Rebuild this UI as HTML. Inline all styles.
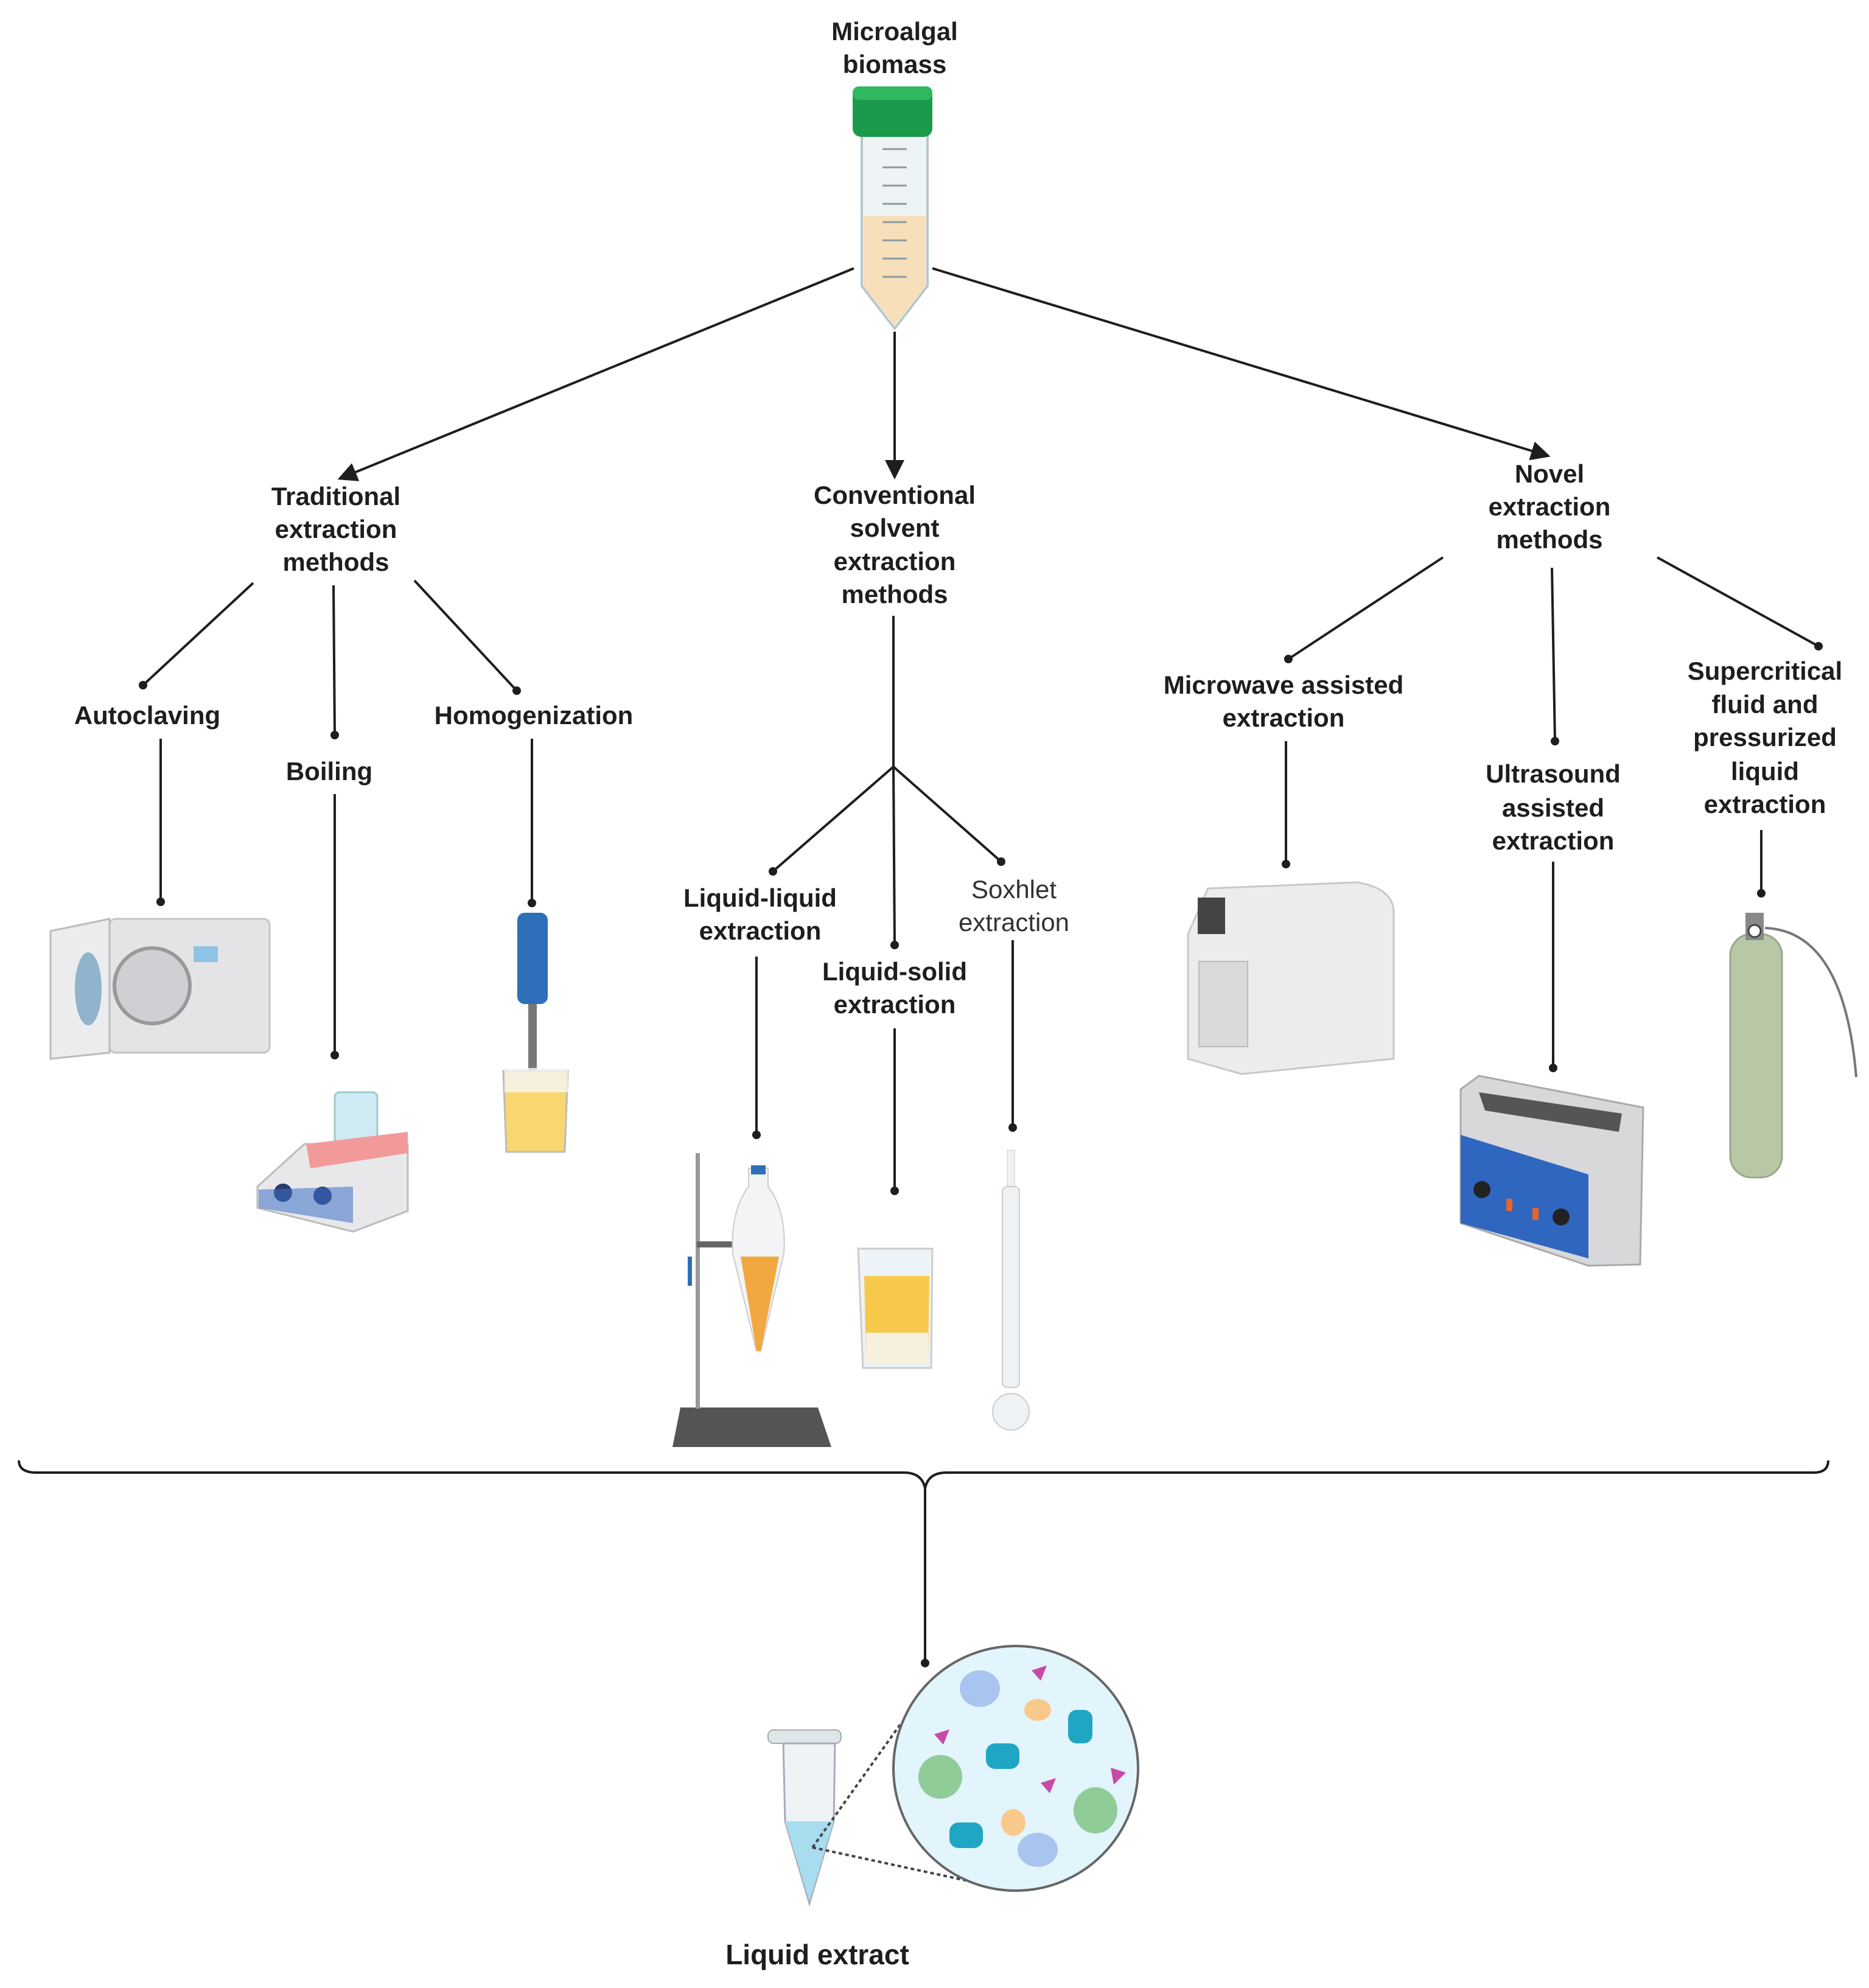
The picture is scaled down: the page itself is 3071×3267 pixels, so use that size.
<!DOCTYPE html>
<html><head><meta charset="utf-8"><style>
html,body{margin:0;padding:0;background:#fff;}
svg{display:block;}
text{font-family:"Liberation Sans",sans-serif;font-weight:bold;fill:#1e1e1e;font-size:42px;text-anchor:middle;}
.n{font-weight:normal;fill:#333;}
.l{stroke:#1e1e1e;stroke-width:4;fill:none;}
</style></head><body>
<svg width="3071" height="3267" viewBox="0 0 3071 3267" xmlns="http://www.w3.org/2000/svg">
<defs>
<marker id="ar" markerWidth="8" markerHeight="8" refX="6" refY="4" orient="auto" markerUnits="strokeWidth"><path d="M0,0 L8,4 L0,8 z" fill="#1e1e1e"/></marker>
</defs>
<text x="1470" y="66">Microalgal</text>
<text x="1470" y="120">biomass</text>
<path d="M1416,215 L1524,215 L1524,470 L1470,540 L1416,470 Z" fill="#eef4f6" stroke="#b9c6cc" stroke-width="4"/>
<path d="M1419,355 L1521,355 L1521,470 L1470,535 L1419,470 Z" fill="#f6dfb9"/>
<g stroke="#8a9aa0" stroke-width="3">
<line x1="1450" y1="245" x2="1490" y2="245"/><line x1="1450" y1="275" x2="1490" y2="275"/><line x1="1450" y1="305" x2="1490" y2="305"/><line x1="1450" y1="335" x2="1490" y2="335"/><line x1="1450" y1="365" x2="1490" y2="365"/><line x1="1450" y1="395" x2="1490" y2="395"/><line x1="1450" y1="425" x2="1490" y2="425"/><line x1="1450" y1="455" x2="1490" y2="455"/></g>
<rect x="1401" y="142" width="131" height="83" rx="14" fill="#1b9a4b"/>
<rect x="1401" y="142" width="131" height="22" rx="10" fill="#2fb85f"/>
<line class="l" x1="1403" y1="441" x2="562" y2="785" marker-end="url(#ar)"/>
<line class="l" x1="1470" y1="545" x2="1470" y2="780" marker-end="url(#ar)"/>
<line class="l" x1="1532" y1="441" x2="2540" y2="748" marker-end="url(#ar)"/>
<text x="552" y="830">Traditional</text><text x="552" y="884">extraction</text><text x="552" y="938">methods</text>
<text x="1470" y="828">Conventional</text><text x="1470" y="882">solvent</text><text x="1470" y="937">extraction</text><text x="1470" y="991">methods</text>
<text x="2546" y="793">Novel</text><text x="2546" y="847">extraction</text><text x="2546" y="901">methods</text>
<g class="l"><line x1="416" y1="958" x2="235" y2="1126"/><line x1="548" y1="962" x2="550" y2="1208"/><line x1="681" y1="954" x2="849" y2="1135"/>
<line x1="264" y1="1214" x2="264" y2="1482"/><line x1="550" y1="1305" x2="550" y2="1734"/><line x1="874" y1="1214" x2="874" y2="1484"/>
<line x1="1468" y1="1012" x2="1468" y2="1260"/><line x1="1468" y1="1260" x2="1270" y2="1432"/><line x1="1468" y1="1260" x2="1470" y2="1553"/><line x1="1468" y1="1260" x2="1645" y2="1416"/>
<line x1="1243" y1="1572" x2="1243" y2="1865"/><line x1="1470" y1="1690" x2="1470" y2="1957"/><line x1="1664" y1="1545" x2="1664" y2="1853"/>
<line x1="2371" y1="916" x2="2117" y2="1083"/><line x1="2550" y1="933" x2="2555" y2="1218"/><line x1="2723" y1="916" x2="2988" y2="1062"/>
<line x1="2113" y1="1218" x2="2113" y2="1420"/><line x1="2552" y1="1416" x2="2552" y2="1755"/><line x1="2894" y1="1364" x2="2894" y2="1468"/>
<line x1="1520" y1="2446" x2="1520" y2="2733"/></g>
<g fill="#1e1e1e"><circle cx="235" cy="1126" r="7"/><circle cx="550" cy="1208" r="7"/><circle cx="849" cy="1135" r="7"/><circle cx="264" cy="1482" r="7"/><circle cx="550" cy="1734" r="7"/><circle cx="874" cy="1484" r="7"/><circle cx="1270" cy="1432" r="7"/><circle cx="1470" cy="1553" r="7"/><circle cx="1645" cy="1416" r="7"/><circle cx="1243" cy="1865" r="7"/><circle cx="1470" cy="1957" r="7"/><circle cx="1664" cy="1853" r="7"/><circle cx="2117" cy="1083" r="7"/><circle cx="2555" cy="1218" r="7"/><circle cx="2988" cy="1062" r="7"/><circle cx="2113" cy="1420" r="7"/><circle cx="2552" cy="1755" r="7"/><circle cx="2894" cy="1468" r="7"/><circle cx="1520" cy="2733" r="7"/></g>
<text x="242" y="1190">Autoclaving</text><text x="541" y="1282">Boiling</text><text x="877" y="1190">Homogenization</text>
<text x="1249" y="1490">Liquid-liquid</text><text x="1249" y="1544">extraction</text>
<text x="1470" y="1611">Liquid-solid</text><text x="1470" y="1665">extraction</text>
<text class="n" x="1666" y="1476">Soxhlet</text><text class="n" x="1666" y="1530">extraction</text>
<text x="2109" y="1140">Microwave assisted</text><text x="2109" y="1194">extraction</text>
<text x="2552" y="1286">Ultrasound</text><text x="2552" y="1342">assisted</text><text x="2552" y="1396">extraction</text>
<text x="2900" y="1117">Supercritical</text><text x="2900" y="1172">fluid and</text><text x="2900" y="1226">pressurized</text><text x="2900" y="1282">liquid</text><text x="2900" y="1336">extraction</text>
<rect x="180" y="1510" width="263" height="220" rx="10" fill="#e4e4e6" stroke="#c4c4c8" stroke-width="3"/>
<circle cx="250" cy="1620" r="62" fill="#cfd0d4" stroke="#999" stroke-width="6"/>
<rect x="318" y="1555" width="40" height="26" fill="#8fc3e6"/>
<path d="M83,1530 L180,1510 L180,1730 L83,1740 Z" fill="#ececee" stroke="#bbb" stroke-width="3"/>
<ellipse cx="145" cy="1625" rx="22" ry="60" fill="#8fb4cc"/>
<rect x="550" y="1795" width="70" height="85" rx="8" fill="#cfeaf3" stroke="#9cc" stroke-width="3"/>
<path d="M423,1950 L500,1880 L670,1880 L670,1990 L580,2024 L423,1985 Z" fill="#e8e8ea" stroke="#bbb" stroke-width="3"/>
<path d="M503,1880 L670,1860 L670,1895 L510,1920 Z" fill="#f29a9a"/>
<circle cx="465" cy="1960" r="15" fill="#2a3a6a"/><circle cx="530" cy="1965" r="15" fill="#2a3a6a"/>
<path d="M425,1955 L580,1950 L580,2010 L425,1985Z" fill="#3a6fc4" opacity=".55"/>
<rect x="850" y="1500" width="50" height="150" rx="12" fill="#2d6fb8"/>
<rect x="868" y="1650" width="14" height="130" fill="#777"/>
<path d="M827,1760 L933,1760 L928,1893 L832,1893 Z" fill="#f8d770" stroke="#bbb" stroke-width="3"/>
<rect x="829" y="1755" width="104" height="40" fill="#f4f6f8" opacity=".8"/>
<path d="M1118,2313 L1344,2313 L1366,2378 L1105,2378 Z" fill="#555"/>
<rect x="1143" y="1895" width="7" height="420" fill="#999"/>
<rect x="1145" y="2040" width="110" height="10" fill="#666"/>
<rect x="1130" y="2065" width="7" height="48" fill="#2d6fb8"/>
<path d="M1230,1920 L1262,1920 L1262,1950 Q1293,1990 1288,2060 L1250,2220 L1243,2220 L1204,2060 Q1200,1990 1230,1950Z" fill="#f2f4f6" stroke="#ccc" stroke-width="2"/>
<path d="M1217,2065 L1280,2065 L1250,2220 L1243,2220 Z" fill="#f2a840"/>
<rect x="1234" y="1915" width="24" height="15" fill="#2d6fb8"/>
<path d="M1410,2052 L1532,2052 L1530,2248 L1418,2248 Z" fill="#edf4f7" stroke="#ccc" stroke-width="3"/>
<path d="M1420,2097 L1527,2097 L1525,2240 L1423,2240 Z" fill="#f8c84a"/>
<path d="M1423,2190 L1525,2190 L1525,2240 L1423,2240 Z" fill="#f6f0de"/>
<rect x="1655" y="1890" width="12" height="60" fill="#eef2f4" stroke="#ccc"/>
<rect x="1647" y="1950" width="28" height="330" rx="8" fill="#eef2f4" stroke="#ccc" stroke-width="2"/>
<circle cx="1661" cy="2320" r="30" fill="#eef2f4" stroke="#ccc" stroke-width="2"/>
<path d="M1985,1460 L2230,1450 Q2290,1460 2290,1500 L2290,1740 L2040,1765 L1952,1740 L1952,1535 Z" fill="#ececee" stroke="#c8c8cc" stroke-width="3"/>
<rect x="1968" y="1475" width="45" height="60" fill="#444"/>
<rect x="1970" y="1580" width="80" height="140" fill="#dadadd" stroke="#bbb" stroke-width="2"/>
<path d="M2400,1790 L2430,1768 L2700,1820 L2695,2078 L2610,2080 L2400,2010 Z" fill="#d8d8da" stroke="#aaa" stroke-width="3"/>
<path d="M2400,1865 L2610,1930 L2610,2068 L2400,2010 Z" fill="#2f66bf"/>
<path d="M2430,1795 L2665,1830 L2660,1860 L2440,1825Z" fill="#555"/>
<circle cx="2435" cy="1955" r="14" fill="#222"/><circle cx="2565" cy="2000" r="14" fill="#222"/>
<rect x="2475" y="1970" width="10" height="20" fill="#e8642a"/><rect x="2518" y="1985" width="10" height="20" fill="#e8642a"/>
<rect x="2843" y="1535" width="85" height="400" rx="35" fill="#b8c7a6" stroke="#9aa88a" stroke-width="3"/>
<rect x="2868" y="1500" width="30" height="45" fill="#888"/>
<circle cx="2883" cy="1530" r="10" fill="#fff" stroke="#444" stroke-width="3"/>
<path d="M2900,1525 Q3030,1530 3050,1770" stroke="#777" stroke-width="4" fill="none"/>
<path d="M31,2400 Q31,2420 60,2420 L1485,2420 Q1515,2420 1520,2446 Q1525,2420 1555,2420 L2980,2420 Q3004,2420 3004,2400" class="l"/>
<!-- eppendorf -->
<rect x="1262" y="2843" width="120" height="22" rx="9" fill="#dfe6ea" stroke="#aaa" stroke-width="2"/>
<path d="M1287,2865 L1372,2865 L1370,2993 L1330,3128 L1290,2993 Z" fill="#eef3f5" stroke="#aab" stroke-width="3"/>
<path d="M1290,2993 L1370,2993 L1330,3125 Z" fill="#a8dcef"/>
<line x1="1335" y1="3036" x2="1482" y2="2830" stroke="#444" stroke-width="4" stroke-dasharray="6,5"/>
<line x1="1335" y1="3036" x2="1600" y2="3093" stroke="#444" stroke-width="4" stroke-dasharray="6,5"/>
<ellipse cx="1669" cy="2906" rx="201" ry="201" fill="#e2f4fc" stroke="#666" stroke-width="4"/>
<g>
<ellipse cx="1610" cy="2775" rx="33" ry="30" fill="#a9c4ee"/><ellipse cx="1705" cy="3040" rx="33" ry="28" fill="#a9c4ee"/>
<ellipse cx="1545" cy="2920" rx="36" ry="36" fill="#8fcc97"/><ellipse cx="1800" cy="2975" rx="36" ry="38" fill="#8fcc97"/>
<ellipse cx="1705" cy="2810" rx="22" ry="18" fill="#f8c98a"/><ellipse cx="1665" cy="2995" rx="20" ry="22" fill="#f8c98a"/>
<rect x="1620" y="2865" width="55" height="42" rx="15" fill="#1fa6c4"/><rect x="1755" y="2810" width="40" height="55" rx="14" fill="#1fa6c4"/><rect x="1560" y="2995" width="55" height="42" rx="15" fill="#1fa6c4"/>
<path d="M1695,2745 l25,-8 -10,25z M1535,2850 l25,-8 -10,25z M1710,2930 l25,-8 -10,25z M1825,2905 l25,8 -20,20z" fill="#c84aa8"/>
</g>
<text x="1343" y="3228" style="font-size:46px">Liquid extract</text>
</svg>
</body></html>
